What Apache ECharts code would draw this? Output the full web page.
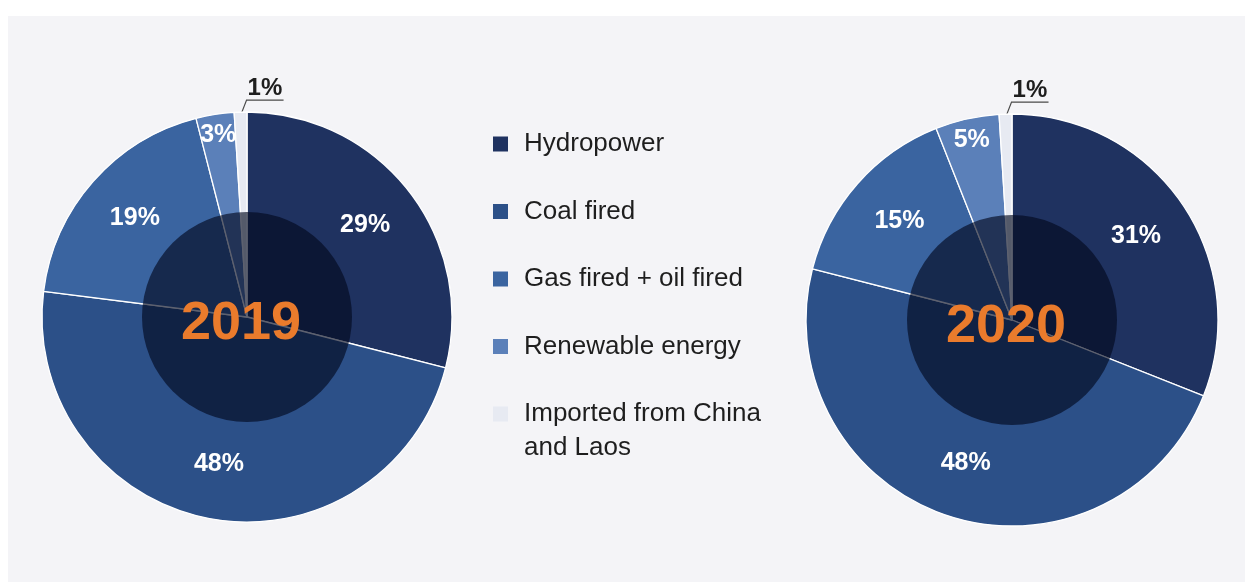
<!DOCTYPE html>
<html>
<head>
<meta charset="utf-8">
<script src="https://cdn.jsdelivr.net/npm/echarts@6/dist/echarts.min.js"></script>
<style>
  html, body { margin: 0; padding: 0; background: #ffffff; }
  #chart { width: 1245px; height: 582px; }
</style>
</head>
<body>
<div id="chart"></div>
<script>
// Electricity generation mix by source, shares in percent
const sources = ['Hydropower', 'Coal fired', 'Gas fired + oil fired', 'Renewable energy', 'Imported from China\nand Laos'];
const years = ['2019', '2020'];
const share2019 = [29, 48, 19, 3, 1];
const share2020 = [31, 48, 15, 5, 1];
const sourceColors = ['#1f3260', '#2c5088', '#3a64a0', '#5b80b9', '#e7eaf2'];

const FONT = '"Liberation Sans", Arial, Helvetica, sans-serif';

function pieGroup(year, values, center, R, rInner) {
  const items = (labelFor) => sources.map((name, i) => Object.assign({
    name: name,
    value: values[i]
  }, labelFor(i)));

  const common = {
    type: 'pie',
    center: center,
    startAngle: 90,
    clockwise: true,
    animation: false,
    silent: true,
    emphasis: { disabled: true }
  };

  return [
    // slices
    Object.assign({}, common, {
      radius: [0, R],
      itemStyle: { borderColor: '#ffffff', borderWidth: 1.3 },
      label: { show: false },
      labelLine: { show: false },
      data: sources.map((name, i) => ({
        name: name, value: values[i], itemStyle: { color: sourceColors[i] }
      }))
    }),
    // darkened core with the year
    Object.assign({}, common, {
      radius: [0, rInner],
      legendHoverLink: false,
      itemStyle: { color: 'rgba(2,8,30,0.64)', borderWidth: 0 },
      label: {
        show: true, position: 'center', formatter: year,
        fontFamily: FONT, fontSize: 54, fontWeight: 'bold', color: '#ea7b2c'
      },
      labelLayout: { dx: -6, dy: 7 },
      labelLine: { show: false },
      data: [{ name: year, value: 1 }]
    }),
    // percentage labels of the large slices
    Object.assign({}, common, {
      radius: [88, R],
      itemStyle: { color: 'rgba(0,0,0,0)', borderWidth: 0 },
      label: {
        position: 'inside', formatter: '{c}%',
        fontFamily: FONT, fontSize: 25, fontWeight: 'bold', color: '#ffffff'
      },
      labelLine: { show: false },
      data: items((i) => ({ label: { show: i < 3 } }))
    }),
    // labels of the small slices
    Object.assign({}, common, {
      radius: [157, R],
      itemStyle: { color: 'rgba(0,0,0,0)', borderWidth: 0 },
      label: {
        formatter: '{c}%',
        fontFamily: FONT, fontSize: 25, fontWeight: 'bold', color: '#ffffff'
      },
      labelLine: { show: false },
      data: items((i) => {
        if (i === 3) return { label: { show: true, position: 'inside' } };
        if (i === 4) return {
          label: { show: true, position: 'outside', color: '#1e1e1e', fontSize: 24 },
          labelLine: { show: true, length: 15, length2: 30, lineStyle: { color: '#4a4a4a', width: 1.2 } }
        };
        return { label: { show: false } };
      }),
      labelLayout: function (p) {
        if (p.dataIndex !== 4 || !p.labelLinePoints) return {};
        const e = p.labelLinePoints[0];
        const a = [e[0] - 1, e[1] + 6];
        const b = [a[0] + 7, a[1] - 18];
        const c = [b[0] + 37, b[1]];
        return {
          x: b[0] + 1, y: b[1],
          align: 'left', verticalAlign: 'bottom',
          labelLinePoints: [a, b, c]
        };
      }
    })
  ];
}

const chart = echarts.init(document.getElementById('chart'), null, { renderer: 'canvas' });

const legendText = {
  fontFamily: FONT, fontSize: 26, color: '#1e1e1e', lineHeight: 34,
  padding: [0, 0, 0, 11]
};
const legendIcon = { borderWidth: 0 };

chart.setOption({
  backgroundColor: '#ffffff',
  animation: false,
  graphic: [{
    type: 'rect', left: 8, top: 16, silent: true, z: -10,
    shape: { width: 1237, height: 566 },
    style: { fill: '#f4f4f7' }
  }],
  legend: [{
    orient: 'vertical', left: 493, top: 127, padding: 0,
    itemWidth: 15, itemHeight: 15, itemGap: 33.5, icon: 'rect',
    selectedMode: false,
    itemStyle: legendIcon,
    textStyle: legendText,
    data: sources.slice(0, 4).map((n, i) => ({ name: n, itemStyle: { color: sourceColors[i], borderWidth: 0 } }))
  }, {
    orient: 'vertical', left: 493, top: 363, padding: 0,
    itemWidth: 15, itemHeight: 15, icon: 'rect',
    selectedMode: false,
    itemStyle: legendIcon,
    textStyle: legendText,
    // blank first line keeps the first text line level with the swatch
    formatter: (name) => '\n' + name,
    data: [{ name: sources[4], itemStyle: { color: sourceColors[4], borderWidth: 0 } }]
  }],
  series: [].concat(
    pieGroup(years[0], share2019, [247, 317], 205, 105),
    pieGroup(years[1], share2020, [1012, 320], 206, 105)
  )
});
</script>
</body>
</html>
